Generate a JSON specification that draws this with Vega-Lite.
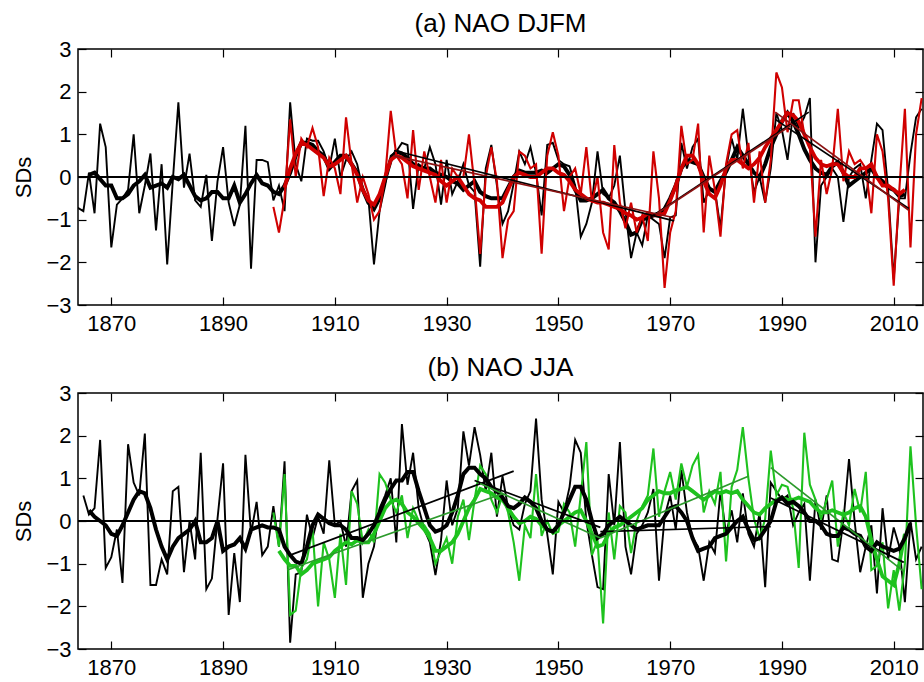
{
"$schema":"https://vega.github.io/schema/vega-lite/v6.json",
"padding":{"left":12,"top":10,"right":0,"bottom":0},
"spacing":19,
"config":{"view":{"stroke":"#000","strokeWidth":1.5},"font":"Liberation Sans",
"title":{"fontSize":26,"fontWeight":"normal","font":"Liberation Sans","offset":1,"anchor":"middle","color":"#000"},
"axis":{"labelFontSize":22,"labelFont":"Liberation Sans","labelColor":"#000","tickColor":"#000","tickWidth":1.2,"titleFontSize":22,"titleFontWeight":"normal","titleFont":"Liberation Sans","titleColor":"#000","grid":false,"domain":false}},
"datasets":{
"a_bk":[{"year":1864,"v":-0.72},{"year":1865,"v":-0.8},{"year":1866,"v":0.1},{"year":1867,"v":-0.85},{"year":1868,"v":1.25},{"year":1869,"v":0.7},{"year":1870,"v":-1.65},{"year":1871,"v":-0.65},{"year":1872,"v":-0.5},{"year":1873,"v":-0.3},{"year":1874,"v":1.0},{"year":1875,"v":-0.85},{"year":1876,"v":-0.2},{"year":1877,"v":0.55},{"year":1878,"v":-1.25},{"year":1879,"v":0.3},{"year":1880,"v":-2.05},{"year":1881,"v":-0.1},{"year":1882,"v":1.75},{"year":1883,"v":-0.25},{"year":1884,"v":0.55},{"year":1885,"v":-0.55},{"year":1886,"v":-0.7},{"year":1887,"v":0.05},{"year":1888,"v":-1.5},{"year":1889,"v":-0.1},{"year":1890,"v":0.7},{"year":1891,"v":-0.6},{"year":1892,"v":-1.15},{"year":1893,"v":-0.65},{"year":1894,"v":1.2},{"year":1895,"v":-2.15},{"year":1896,"v":0.4},{"year":1897,"v":0.4},{"year":1898,"v":0.35},{"year":1899,"v":-0.55},{"year":1900,"v":-0.2},{"year":1901,"v":-0.8},{"year":1902,"v":1.75},{"year":1903,"v":0.3},{"year":1904,"v":-0.1},{"year":1905,"v":0.9},{"year":1906,"v":0.85},{"year":1907,"v":0.85},{"year":1908,"v":0.6},{"year":1909,"v":0.2},{"year":1910,"v":0.9},{"year":1911,"v":0.0},{"year":1912,"v":0.4},{"year":1913,"v":0.6},{"year":1914,"v":0.3},{"year":1915,"v":-0.3},{"year":1916,"v":-0.5},{"year":1917,"v":-2.05},{"year":1918,"v":-0.8},{"year":1919,"v":-0.2},{"year":1920,"v":0.5},{"year":1921,"v":0.6},{"year":1922,"v":0.8},{"year":1923,"v":0.75},{"year":1924,"v":-0.75},{"year":1925,"v":0.3},{"year":1926,"v":0.2},{"year":1927,"v":0.7},{"year":1928,"v":0.3},{"year":1929,"v":-0.65},{"year":1930,"v":0.4},{"year":1931,"v":-0.4},{"year":1932,"v":-0.1},{"year":1933,"v":0.3},{"year":1934,"v":-0.2},{"year":1935,"v":-0.35},{"year":1936,"v":-2.1},{"year":1937,"v":0.2},{"year":1938,"v":0.75},{"year":1939,"v":-0.2},{"year":1940,"v":-1.1},{"year":1941,"v":-0.8},{"year":1942,"v":-0.15},{"year":1943,"v":0.6},{"year":1944,"v":0.3},{"year":1945,"v":0.7},{"year":1946,"v":0.1},{"year":1947,"v":-0.9},{"year":1948,"v":0.75},{"year":1949,"v":0.8},{"year":1950,"v":0.4},{"year":1951,"v":0.3},{"year":1952,"v":0.25},{"year":1953,"v":-0.2},{"year":1954,"v":-1.4},{"year":1955,"v":-1.1},{"year":1956,"v":-0.6},{"year":1957,"v":0.6},{"year":1958,"v":-0.4},{"year":1959,"v":-0.5},{"year":1960,"v":-0.2},{"year":1961,"v":0.5},{"year":1962,"v":-0.8},{"year":1963,"v":-1.9},{"year":1964,"v":-1.3},{"year":1965,"v":-1.6},{"year":1966,"v":-0.9},{"year":1967,"v":-1.0},{"year":1968,"v":-1.1},{"year":1969,"v":-1.9},{"year":1970,"v":-0.95},{"year":1971,"v":-0.9},{"year":1972,"v":0.8},{"year":1973,"v":0.2},{"year":1974,"v":0.7},{"year":1975,"v":0.9},{"year":1976,"v":-0.6},{"year":1977,"v":-0.3},{"year":1978,"v":-0.3},{"year":1979,"v":-1.2},{"year":1980,"v":0.2},{"year":1981,"v":0.9},{"year":1982,"v":0.4},{"year":1983,"v":1.6},{"year":1984,"v":0.5},{"year":1985,"v":-0.35},{"year":1986,"v":0.0},{"year":1987,"v":-0.6},{"year":1988,"v":0.2},{"year":1989,"v":1.5},{"year":1990,"v":1.1},{"year":1991,"v":0.4},{"year":1992,"v":1.5},{"year":1993,"v":1.15},{"year":1994,"v":1.4},{"year":1995,"v":1.85},{"year":1996,"v":-2.0},{"year":1997,"v":-0.2},{"year":1998,"v":0.0},{"year":1999,"v":0.2},{"year":2000,"v":0.0},{"year":2001,"v":-1.05},{"year":2002,"v":0.0},{"year":2003,"v":0.2},{"year":2004,"v":0.3},{"year":2005,"v":-0.5},{"year":2006,"v":0.4},{"year":2007,"v":1.25},{"year":2008,"v":1.1},{"year":2009,"v":-0.3},{"year":2010,"v":-2.4},{"year":2011,"v":-0.5},{"year":2012,"v":-0.5},{"year":2013,"v":0.55},{"year":2014,"v":1.4},{"year":2015,"v":1.6}],
"a_bks":[{"year":1866,"v":0.05},{"year":1867,"v":0.1},{"year":1868,"v":-0.05},{"year":1869,"v":-0.2},{"year":1870,"v":-0.2},{"year":1871,"v":-0.5},{"year":1872,"v":-0.5},{"year":1873,"v":-0.4},{"year":1874,"v":-0.2},{"year":1875,"v":-0.1},{"year":1876,"v":0.05},{"year":1877,"v":-0.25},{"year":1878,"v":-0.2},{"year":1879,"v":-0.15},{"year":1880,"v":-0.25},{"year":1881,"v":0.0},{"year":1882,"v":-0.05},{"year":1883,"v":0.05},{"year":1884,"v":-0.2},{"year":1885,"v":-0.45},{"year":1886,"v":-0.55},{"year":1887,"v":-0.5},{"year":1888,"v":-0.35},{"year":1889,"v":-0.35},{"year":1890,"v":-0.5},{"year":1891,"v":-0.5},{"year":1892,"v":-0.2},{"year":1893,"v":-0.6},{"year":1894,"v":-0.4},{"year":1895,"v":-0.15},{"year":1896,"v":0.05},{"year":1897,"v":-0.15},{"year":1898,"v":-0.2},{"year":1899,"v":-0.35},{"year":1900,"v":-0.4},{"year":1901,"v":-0.2},{"year":1902,"v":0.1},{"year":1903,"v":0.5},{"year":1904,"v":0.8},{"year":1905,"v":0.8},{"year":1906,"v":0.75},{"year":1907,"v":0.6},{"year":1908,"v":0.5},{"year":1909,"v":0.2},{"year":1910,"v":0.35},{"year":1911,"v":0.5},{"year":1912,"v":0.5},{"year":1913,"v":0.3},{"year":1914,"v":0.1},{"year":1915,"v":-0.3},{"year":1916,"v":-0.6},{"year":1917,"v":-0.75},{"year":1918,"v":-0.5},{"year":1919,"v":-0.05},{"year":1920,"v":0.4},{"year":1921,"v":0.6},{"year":1922,"v":0.55},{"year":1923,"v":0.45},{"year":1924,"v":0.3},{"year":1925,"v":0.25},{"year":1926,"v":0.2},{"year":1927,"v":0.2},{"year":1928,"v":0.1},{"year":1929,"v":0.05},{"year":1930,"v":0.0},{"year":1931,"v":-0.1},{"year":1932,"v":-0.15},{"year":1933,"v":-0.3},{"year":1934,"v":-0.2},{"year":1935,"v":-0.1},{"year":1936,"v":-0.35},{"year":1937,"v":-0.45},{"year":1938,"v":-0.5},{"year":1939,"v":-0.5},{"year":1940,"v":-0.5},{"year":1941,"v":-0.25},{"year":1942,"v":0.0},{"year":1943,"v":0.15},{"year":1944,"v":0.1},{"year":1945,"v":0.1},{"year":1946,"v":0.1},{"year":1947,"v":0.15},{"year":1948,"v":0.1},{"year":1949,"v":0.2},{"year":1950,"v":0.3},{"year":1951,"v":0.25},{"year":1952,"v":0.05},{"year":1953,"v":-0.3},{"year":1954,"v":-0.55},{"year":1955,"v":-0.55},{"year":1956,"v":-0.5},{"year":1957,"v":-0.4},{"year":1958,"v":-0.3},{"year":1959,"v":-0.5},{"year":1960,"v":-0.6},{"year":1961,"v":-0.8},{"year":1962,"v":-1.05},{"year":1963,"v":-1.35},{"year":1964,"v":-1.3},{"year":1965,"v":-1.0},{"year":1966,"v":-0.95},{"year":1967,"v":-0.9},{"year":1968,"v":-0.85},{"year":1969,"v":-0.75},{"year":1970,"v":-0.5},{"year":1971,"v":-0.2},{"year":1972,"v":0.2},{"year":1973,"v":0.4},{"year":1974,"v":0.35},{"year":1975,"v":0.3},{"year":1976,"v":0.0},{"year":1977,"v":-0.27},{"year":1978,"v":-0.35},{"year":1979,"v":-0.1},{"year":1980,"v":0.12},{"year":1981,"v":0.4},{"year":1982,"v":0.7},{"year":1983,"v":0.5},{"year":1984,"v":0.3},{"year":1985,"v":0.1},{"year":1986,"v":0.0},{"year":1987,"v":0.3},{"year":1988,"v":0.7},{"year":1989,"v":1.0},{"year":1990,"v":1.3},{"year":1991,"v":1.5},{"year":1992,"v":1.3},{"year":1993,"v":1.0},{"year":1994,"v":0.65},{"year":1995,"v":0.4},{"year":1996,"v":0.2},{"year":1997,"v":0.1},{"year":1998,"v":0.05},{"year":1999,"v":0.25},{"year":2000,"v":0.35},{"year":2001,"v":0.1},{"year":2002,"v":-0.2},{"year":2003,"v":-0.1},{"year":2004,"v":0.0},{"year":2005,"v":0.1},{"year":2006,"v":0.2},{"year":2007,"v":0.0},{"year":2008,"v":-0.1},{"year":2009,"v":-0.25},{"year":2010,"v":-0.3},{"year":2011,"v":-0.45},{"year":2012,"v":-0.4}],
"a_rd":[{"year":1899,"v":-0.7},{"year":1900,"v":-1.3},{"year":1901,"v":-0.5},{"year":1902,"v":1.35},{"year":1903,"v":0.0},{"year":1904,"v":0.9},{"year":1905,"v":0.7},{"year":1906,"v":1.15},{"year":1907,"v":0.7},{"year":1908,"v":-0.45},{"year":1909,"v":0.45},{"year":1910,"v":0.2},{"year":1911,"v":-0.4},{"year":1912,"v":1.4},{"year":1913,"v":0.3},{"year":1914,"v":-0.6},{"year":1915,"v":0.0},{"year":1916,"v":-0.4},{"year":1917,"v":-1.0},{"year":1918,"v":-0.8},{"year":1919,"v":0.0},{"year":1920,"v":1.55},{"year":1921,"v":0.5},{"year":1922,"v":0.3},{"year":1923,"v":-0.5},{"year":1924,"v":1.1},{"year":1925,"v":-0.3},{"year":1926,"v":0.6},{"year":1927,"v":0.0},{"year":1928,"v":-0.6},{"year":1929,"v":0.4},{"year":1930,"v":-0.6},{"year":1931,"v":0.2},{"year":1932,"v":0.0},{"year":1933,"v":0.0},{"year":1934,"v":1.0},{"year":1935,"v":-0.2},{"year":1936,"v":-1.8},{"year":1937,"v":0.0},{"year":1938,"v":0.7},{"year":1939,"v":-0.1},{"year":1940,"v":-1.9},{"year":1941,"v":-1.0},{"year":1942,"v":-0.8},{"year":1943,"v":0.6},{"year":1944,"v":0.5},{"year":1945,"v":0.2},{"year":1946,"v":0.3},{"year":1947,"v":-1.8},{"year":1948,"v":0.5},{"year":1949,"v":1.05},{"year":1950,"v":0.5},{"year":1951,"v":-0.8},{"year":1952,"v":0.0},{"year":1953,"v":0.2},{"year":1954,"v":-0.4},{"year":1955,"v":0.7},{"year":1956,"v":-0.6},{"year":1957,"v":0.0},{"year":1958,"v":-1.3},{"year":1959,"v":-1.7},{"year":1960,"v":0.75},{"year":1961,"v":-0.6},{"year":1962,"v":-1.2},{"year":1963,"v":-0.6},{"year":1964,"v":-1.3},{"year":1965,"v":-0.9},{"year":1966,"v":-1.5},{"year":1967,"v":0.6},{"year":1968,"v":-0.5},{"year":1969,"v":-2.6},{"year":1970,"v":-1.3},{"year":1971,"v":-0.8},{"year":1972,"v":1.2},{"year":1973,"v":0.3},{"year":1974,"v":0.4},{"year":1975,"v":1.25},{"year":1976,"v":-1.3},{"year":1977,"v":0.5},{"year":1978,"v":-0.3},{"year":1979,"v":-1.4},{"year":1980,"v":0.3},{"year":1981,"v":1.0},{"year":1982,"v":1.1},{"year":1983,"v":0.2},{"year":1984,"v":0.8},{"year":1985,"v":-0.6},{"year":1986,"v":0.6},{"year":1987,"v":-0.6},{"year":1988,"v":0.4},{"year":1989,"v":2.45},{"year":1990,"v":2.1},{"year":1991,"v":1.05},{"year":1992,"v":1.8},{"year":1993,"v":1.8},{"year":1994,"v":1.0},{"year":1995,"v":0.7},{"year":1996,"v":-1.4},{"year":1997,"v":0.4},{"year":1998,"v":-0.4},{"year":1999,"v":0.2},{"year":2000,"v":1.6},{"year":2001,"v":-0.1},{"year":2002,"v":0.6},{"year":2003,"v":0.3},{"year":2004,"v":0.4},{"year":2005,"v":0.2},{"year":2006,"v":-0.85},{"year":2007,"v":1.0},{"year":2008,"v":0.6},{"year":2009,"v":-0.5},{"year":2010,"v":-2.55},{"year":2011,"v":-0.3},{"year":2012,"v":1.6},{"year":2013,"v":-1.65},{"year":2014,"v":1.0},{"year":2015,"v":1.85}],
"a_rds":[{"year":1901,"v":-0.25},{"year":1902,"v":0.2},{"year":1903,"v":0.55},{"year":1904,"v":0.8},{"year":1905,"v":0.75},{"year":1906,"v":0.65},{"year":1907,"v":0.55},{"year":1908,"v":0.45},{"year":1909,"v":0.25},{"year":1910,"v":0.3},{"year":1911,"v":0.4},{"year":1912,"v":0.5},{"year":1913,"v":0.3},{"year":1914,"v":0.05},{"year":1915,"v":-0.3},{"year":1916,"v":-0.55},{"year":1917,"v":-0.65},{"year":1918,"v":-0.4},{"year":1919,"v":0.0},{"year":1920,"v":0.4},{"year":1921,"v":0.5},{"year":1922,"v":0.45},{"year":1923,"v":0.35},{"year":1924,"v":0.25},{"year":1925,"v":0.2},{"year":1926,"v":0.15},{"year":1927,"v":0.1},{"year":1928,"v":0.05},{"year":1929,"v":-0.1},{"year":1930,"v":-0.2},{"year":1931,"v":-0.1},{"year":1932,"v":0.0},{"year":1933,"v":-0.2},{"year":1934,"v":-0.4},{"year":1935,"v":-0.5},{"year":1936,"v":-0.55},{"year":1937,"v":-0.7},{"year":1938,"v":-0.7},{"year":1939,"v":-0.7},{"year":1940,"v":-0.6},{"year":1941,"v":-0.3},{"year":1942,"v":0.0},{"year":1943,"v":0.1},{"year":1944,"v":0.05},{"year":1945,"v":0.0},{"year":1946,"v":0.0},{"year":1947,"v":0.1},{"year":1948,"v":0.2},{"year":1949,"v":0.2},{"year":1950,"v":0.1},{"year":1951,"v":0.05},{"year":1952,"v":-0.1},{"year":1953,"v":-0.3},{"year":1954,"v":-0.4},{"year":1955,"v":-0.5},{"year":1956,"v":-0.55},{"year":1957,"v":-0.6},{"year":1958,"v":-0.6},{"year":1959,"v":-0.65},{"year":1960,"v":-0.7},{"year":1961,"v":-0.75},{"year":1962,"v":-0.85},{"year":1963,"v":-0.9},{"year":1964,"v":-1.0},{"year":1965,"v":-0.95},{"year":1966,"v":-0.85},{"year":1967,"v":-0.9},{"year":1968,"v":-0.9},{"year":1969,"v":-0.85},{"year":1970,"v":-0.55},{"year":1971,"v":-0.2},{"year":1972,"v":0.2},{"year":1973,"v":0.5},{"year":1974,"v":0.5},{"year":1975,"v":0.3},{"year":1976,"v":-0.1},{"year":1977,"v":-0.4},{"year":1978,"v":-0.5},{"year":1979,"v":-0.2},{"year":1980,"v":0.2},{"year":1981,"v":0.4},{"year":1982,"v":0.4},{"year":1983,"v":0.3},{"year":1984,"v":0.2},{"year":1985,"v":0.3},{"year":1986,"v":0.45},{"year":1987,"v":0.7},{"year":1988,"v":0.9},{"year":1989,"v":1.1},{"year":1990,"v":1.3},{"year":1991,"v":1.5},{"year":1992,"v":1.45},{"year":1993,"v":1.3},{"year":1994,"v":1.0},{"year":1995,"v":0.7},{"year":1996,"v":0.45},{"year":1997,"v":0.3},{"year":1998,"v":0.25},{"year":1999,"v":0.3},{"year":2000,"v":0.3},{"year":2001,"v":0.1},{"year":2002,"v":0.0},{"year":2003,"v":0.0},{"year":2004,"v":0.2},{"year":2005,"v":0.2},{"year":2006,"v":0.3},{"year":2007,"v":0.0},{"year":2008,"v":-0.2},{"year":2009,"v":-0.2},{"year":2010,"v":-0.3},{"year":2011,"v":-0.4},{"year":2012,"v":-0.3}],
"a_trk":[{"s":"1","year":1920.6,"v":0.62},{"s":"1","year":1970.7,"v":-1.03},{"s":"2","year":1966.5,"v":-0.94},{"s":"2","year":1994.8,"v":1.52},{"s":"3","year":1988.8,"v":1.35},{"s":"3","year":2012.7,"v":-0.74}],
"a_trr":[{"s":"1","year":1920.5,"v":0.5},{"s":"1","year":1970.5,"v":-0.95},{"s":"2","year":1967.7,"v":-0.85},{"s":"2","year":1991.5,"v":1.2},{"s":"3","year":1988.8,"v":1.52},{"s":"3","year":2012.7,"v":-0.78}],
"zero":[{"year":1860,"v":0},{"year":2020,"v":0}],
"b_bk":[{"year":1865,"v":0.6},{"year":1866,"v":0.15},{"year":1867,"v":0.3},{"year":1868,"v":1.9},{"year":1869,"v":-1.1},{"year":1870,"v":-0.85},{"year":1871,"v":-0.2},{"year":1872,"v":-1.45},{"year":1873,"v":1.8},{"year":1874,"v":0.9},{"year":1875,"v":0.6},{"year":1876,"v":2.05},{"year":1877,"v":-1.5},{"year":1878,"v":-1.5},{"year":1879,"v":-0.9},{"year":1880,"v":-1.25},{"year":1881,"v":0.7},{"year":1882,"v":0.8},{"year":1883,"v":-1.2},{"year":1884,"v":0.0},{"year":1885,"v":-0.9},{"year":1886,"v":1.6},{"year":1887,"v":-1.6},{"year":1888,"v":-1.35},{"year":1889,"v":0.05},{"year":1890,"v":1.35},{"year":1891,"v":-2.2},{"year":1892,"v":-0.75},{"year":1893,"v":-1.9},{"year":1894,"v":1.55},{"year":1895,"v":-0.3},{"year":1896,"v":0.45},{"year":1897,"v":-0.8},{"year":1898,"v":-0.6},{"year":1899,"v":0.35},{"year":1900,"v":-0.6},{"year":1901,"v":1.4},{"year":1902,"v":-2.85},{"year":1903,"v":-1.25},{"year":1904,"v":-1.2},{"year":1905,"v":0.15},{"year":1906,"v":-0.4},{"year":1907,"v":0.1},{"year":1908,"v":-0.3},{"year":1909,"v":1.42},{"year":1910,"v":-0.1},{"year":1911,"v":0.0},{"year":1912,"v":-0.6},{"year":1913,"v":0.7},{"year":1914,"v":0.95},{"year":1915,"v":-1.8},{"year":1916,"v":-1.0},{"year":1917,"v":-0.6},{"year":1918,"v":0.3},{"year":1919,"v":0.6},{"year":1920,"v":1.0},{"year":1921,"v":-0.5},{"year":1922,"v":2.27},{"year":1923,"v":0.85},{"year":1924,"v":1.6},{"year":1925,"v":0.3},{"year":1926,"v":-0.2},{"year":1927,"v":-0.5},{"year":1928,"v":-1.27},{"year":1929,"v":-0.45},{"year":1930,"v":0.95},{"year":1931,"v":-0.1},{"year":1932,"v":0.3},{"year":1933,"v":2.1},{"year":1934,"v":1.3},{"year":1935,"v":2.2},{"year":1936,"v":1.55},{"year":1937,"v":0.7},{"year":1938,"v":1.6},{"year":1939,"v":0.1},{"year":1940,"v":1.05},{"year":1941,"v":0.3},{"year":1942,"v":-0.1},{"year":1943,"v":-0.2},{"year":1944,"v":0.4},{"year":1945,"v":0.7},{"year":1946,"v":2.4},{"year":1947,"v":0.5},{"year":1948,"v":-0.3},{"year":1949,"v":-1.25},{"year":1950,"v":0.45},{"year":1951,"v":0.2},{"year":1952,"v":0.8},{"year":1953,"v":1.9},{"year":1954,"v":1.6},{"year":1955,"v":0.0},{"year":1956,"v":-0.8},{"year":1957,"v":-1.55},{"year":1958,"v":-1.6},{"year":1959,"v":1.1},{"year":1960,"v":-0.1},{"year":1961,"v":1.85},{"year":1962,"v":-0.6},{"year":1963,"v":-1.25},{"year":1964,"v":-0.3},{"year":1965,"v":-0.1},{"year":1966,"v":0.2},{"year":1967,"v":0.75},{"year":1968,"v":-1.4},{"year":1969,"v":0.1},{"year":1970,"v":0.6},{"year":1971,"v":-0.2},{"year":1972,"v":1.2},{"year":1973,"v":0.2},{"year":1974,"v":-0.4},{"year":1975,"v":-0.6},{"year":1976,"v":-1.4},{"year":1977,"v":-0.5},{"year":1978,"v":-0.75},{"year":1979,"v":0.7},{"year":1980,"v":-0.3},{"year":1981,"v":0.25},{"year":1982,"v":-0.5},{"year":1983,"v":0.65},{"year":1984,"v":-0.3},{"year":1985,"v":-0.6},{"year":1986,"v":0.2},{"year":1987,"v":-1.55},{"year":1988,"v":0.9},{"year":1989,"v":0.7},{"year":1990,"v":0.5},{"year":1991,"v":0.6},{"year":1992,"v":-0.1},{"year":1993,"v":0.2},{"year":1994,"v":0.4},{"year":1995,"v":-1.4},{"year":1996,"v":0.5},{"year":1997,"v":-0.2},{"year":1998,"v":0.6},{"year":1999,"v":-0.9},{"year":2000,"v":-0.95},{"year":2001,"v":0.0},{"year":2002,"v":1.45},{"year":2003,"v":0.0},{"year":2004,"v":-1.2},{"year":2005,"v":-0.6},{"year":2006,"v":-0.1},{"year":2007,"v":-1.7},{"year":2008,"v":0.3},{"year":2009,"v":-0.9},{"year":2010,"v":-0.15},{"year":2011,"v":-0.6},{"year":2012,"v":-1.9},{"year":2013,"v":0.0},{"year":2014,"v":-0.9},{"year":2015,"v":-0.6}],
"b_bks":[{"year":1866,"v":0.25},{"year":1867,"v":0.1},{"year":1868,"v":0.0},{"year":1869,"v":-0.1},{"year":1870,"v":-0.3},{"year":1871,"v":-0.35},{"year":1872,"v":-0.1},{"year":1873,"v":0.2},{"year":1874,"v":0.5},{"year":1875,"v":0.7},{"year":1876,"v":0.65},{"year":1877,"v":0.3},{"year":1878,"v":-0.2},{"year":1879,"v":-0.6},{"year":1880,"v":-0.9},{"year":1881,"v":-0.6},{"year":1882,"v":-0.4},{"year":1883,"v":-0.3},{"year":1884,"v":-0.2},{"year":1885,"v":0.0},{"year":1886,"v":-0.5},{"year":1887,"v":-0.5},{"year":1888,"v":-0.4},{"year":1889,"v":0.0},{"year":1890,"v":-0.7},{"year":1891,"v":-0.6},{"year":1892,"v":-0.55},{"year":1893,"v":-0.4},{"year":1894,"v":-0.65},{"year":1895,"v":-0.2},{"year":1896,"v":-0.15},{"year":1897,"v":-0.1},{"year":1898,"v":-0.15},{"year":1899,"v":-0.15},{"year":1900,"v":-0.2},{"year":1901,"v":-0.6},{"year":1902,"v":-0.8},{"year":1903,"v":-0.95},{"year":1904,"v":-1.0},{"year":1905,"v":-0.6},{"year":1906,"v":-0.1},{"year":1907,"v":0.15},{"year":1908,"v":0.05},{"year":1909,"v":-0.05},{"year":1910,"v":-0.1},{"year":1911,"v":-0.1},{"year":1912,"v":-0.2},{"year":1913,"v":-0.4},{"year":1914,"v":-0.4},{"year":1915,"v":-0.45},{"year":1916,"v":-0.3},{"year":1917,"v":-0.1},{"year":1918,"v":0.2},{"year":1919,"v":0.5},{"year":1920,"v":0.75},{"year":1921,"v":0.95},{"year":1922,"v":0.95},{"year":1923,"v":1.15},{"year":1924,"v":1.15},{"year":1925,"v":0.7},{"year":1926,"v":0.3},{"year":1927,"v":-0.1},{"year":1928,"v":-0.25},{"year":1929,"v":-0.2},{"year":1930,"v":-0.1},{"year":1931,"v":0.2},{"year":1932,"v":0.6},{"year":1933,"v":1.1},{"year":1934,"v":1.25},{"year":1935,"v":1.25},{"year":1936,"v":1.1},{"year":1937,"v":1.0},{"year":1938,"v":0.8},{"year":1939,"v":0.7},{"year":1940,"v":0.55},{"year":1941,"v":0.35},{"year":1942,"v":0.3},{"year":1943,"v":0.4},{"year":1944,"v":0.55},{"year":1945,"v":0.45},{"year":1946,"v":0.3},{"year":1947,"v":0.0},{"year":1948,"v":-0.2},{"year":1949,"v":-0.25},{"year":1950,"v":-0.1},{"year":1951,"v":0.2},{"year":1952,"v":0.5},{"year":1953,"v":0.8},{"year":1954,"v":0.8},{"year":1955,"v":0.5},{"year":1956,"v":0.0},{"year":1957,"v":-0.4},{"year":1958,"v":-0.3},{"year":1959,"v":-0.1},{"year":1960,"v":0.0},{"year":1961,"v":0.1},{"year":1962,"v":0.0},{"year":1963,"v":-0.1},{"year":1964,"v":-0.2},{"year":1965,"v":-0.15},{"year":1966,"v":-0.1},{"year":1967,"v":-0.1},{"year":1968,"v":-0.1},{"year":1969,"v":0.1},{"year":1970,"v":0.3},{"year":1971,"v":0.35},{"year":1972,"v":0.2},{"year":1973,"v":0.0},{"year":1974,"v":-0.4},{"year":1975,"v":-0.7},{"year":1976,"v":-0.65},{"year":1977,"v":-0.6},{"year":1978,"v":-0.4},{"year":1979,"v":-0.35},{"year":1980,"v":-0.3},{"year":1981,"v":-0.15},{"year":1982,"v":0.0},{"year":1983,"v":0.1},{"year":1984,"v":-0.2},{"year":1985,"v":-0.45},{"year":1986,"v":-0.4},{"year":1987,"v":-0.2},{"year":1988,"v":0.0},{"year":1989,"v":0.45},{"year":1990,"v":0.55},{"year":1991,"v":0.4},{"year":1992,"v":0.45},{"year":1993,"v":0.35},{"year":1994,"v":0.2},{"year":1995,"v":0.0},{"year":1996,"v":0.0},{"year":1997,"v":-0.1},{"year":1998,"v":-0.3},{"year":1999,"v":-0.35},{"year":2000,"v":-0.35},{"year":2001,"v":-0.15},{"year":2002,"v":-0.2},{"year":2003,"v":-0.3},{"year":2004,"v":-0.35},{"year":2005,"v":-0.6},{"year":2006,"v":-0.7},{"year":2007,"v":-0.5},{"year":2008,"v":-0.6},{"year":2009,"v":-0.65},{"year":2010,"v":-0.7},{"year":2011,"v":-0.65},{"year":2012,"v":-0.4},{"year":2013,"v":-0.05}],
"b_gr":[{"year":1899,"v":0.2},{"year":1900,"v":-0.6},{"year":1901,"v":1.1},{"year":1902,"v":-2.2},{"year":1903,"v":-2.1},{"year":1904,"v":-1.1},{"year":1905,"v":-0.9},{"year":1906,"v":-0.2},{"year":1907,"v":-2.0},{"year":1908,"v":-0.5},{"year":1909,"v":-0.9},{"year":1910,"v":-1.8},{"year":1911,"v":-0.3},{"year":1912,"v":-1.5},{"year":1913,"v":0.7},{"year":1914,"v":0.4},{"year":1915,"v":-0.5},{"year":1916,"v":-0.2},{"year":1917,"v":-0.5},{"year":1918,"v":1.1},{"year":1919,"v":0.9},{"year":1920,"v":0.5},{"year":1921,"v":0.2},{"year":1922,"v":0.6},{"year":1923,"v":-0.4},{"year":1924,"v":0.3},{"year":1925,"v":0.0},{"year":1926,"v":-0.1},{"year":1927,"v":-0.3},{"year":1928,"v":-1.0},{"year":1929,"v":-0.7},{"year":1930,"v":-0.4},{"year":1931,"v":-1.0},{"year":1932,"v":0.1},{"year":1933,"v":0.5},{"year":1934,"v":-0.45},{"year":1935,"v":0.5},{"year":1936,"v":1.3},{"year":1937,"v":1.1},{"year":1938,"v":0.5},{"year":1939,"v":0.2},{"year":1940,"v":0.6},{"year":1941,"v":0.2},{"year":1942,"v":-0.5},{"year":1943,"v":-1.4},{"year":1944,"v":-0.1},{"year":1945,"v":-0.4},{"year":1946,"v":1.1},{"year":1947,"v":-0.35},{"year":1948,"v":0.0},{"year":1949,"v":-0.3},{"year":1950,"v":-0.25},{"year":1951,"v":0.4},{"year":1952,"v":0.2},{"year":1953,"v":-0.6},{"year":1954,"v":0.6},{"year":1955,"v":1.85},{"year":1956,"v":-0.8},{"year":1957,"v":-0.45},{"year":1958,"v":-2.4},{"year":1959,"v":0.2},{"year":1960,"v":-0.9},{"year":1961,"v":0.35},{"year":1962,"v":0.2},{"year":1963,"v":-0.75},{"year":1964,"v":0.0},{"year":1965,"v":0.35},{"year":1966,"v":0.6},{"year":1967,"v":1.7},{"year":1968,"v":0.1},{"year":1969,"v":0.7},{"year":1970,"v":1.15},{"year":1971,"v":0.5},{"year":1972,"v":1.35},{"year":1973,"v":0.8},{"year":1974,"v":1.3},{"year":1975,"v":1.55},{"year":1976,"v":0.2},{"year":1977,"v":0.7},{"year":1978,"v":0.4},{"year":1979,"v":1.15},{"year":1980,"v":-0.95},{"year":1981,"v":0.8},{"year":1982,"v":1.2},{"year":1983,"v":2.2},{"year":1984,"v":1.0},{"year":1985,"v":0.05},{"year":1986,"v":-0.4},{"year":1987,"v":0.05},{"year":1988,"v":1.65},{"year":1989,"v":0.6},{"year":1990,"v":0.85},{"year":1991,"v":0.8},{"year":1992,"v":0.3},{"year":1993,"v":-1.1},{"year":1994,"v":2.07},{"year":1995,"v":0.85},{"year":1996,"v":0.5},{"year":1997,"v":0.05},{"year":1998,"v":0.5},{"year":1999,"v":0.95},{"year":2000,"v":-0.6},{"year":2001,"v":0.2},{"year":2002,"v":-0.1},{"year":2003,"v":0.75},{"year":2004,"v":0.2},{"year":2005,"v":1.15},{"year":2006,"v":-1.15},{"year":2007,"v":-1.05},{"year":2008,"v":-0.5},{"year":2009,"v":-2.05},{"year":2010,"v":-1.15},{"year":2011,"v":-2.1},{"year":2012,"v":-1.0},{"year":2013,"v":1.75},{"year":2014,"v":-0.1},{"year":2015,"v":-1.6}],
"b_grs":[{"year":1900,"v":-0.7},{"year":1901,"v":-0.9},{"year":1902,"v":-1.05},{"year":1903,"v":-1.05},{"year":1904,"v":-1.25},{"year":1905,"v":-1.15},{"year":1906,"v":-1.0},{"year":1907,"v":-0.95},{"year":1908,"v":-0.9},{"year":1909,"v":-0.85},{"year":1910,"v":-0.7},{"year":1911,"v":-0.6},{"year":1912,"v":-0.5},{"year":1913,"v":-0.55},{"year":1914,"v":-0.45},{"year":1915,"v":-0.5},{"year":1916,"v":-0.5},{"year":1917,"v":-0.3},{"year":1918,"v":0.0},{"year":1919,"v":0.3},{"year":1920,"v":0.45},{"year":1921,"v":0.5},{"year":1922,"v":0.4},{"year":1923,"v":0.2},{"year":1924,"v":0.1},{"year":1925,"v":-0.05},{"year":1926,"v":-0.2},{"year":1927,"v":-0.4},{"year":1928,"v":-0.7},{"year":1929,"v":-0.7},{"year":1930,"v":-0.6},{"year":1931,"v":-0.5},{"year":1932,"v":-0.3},{"year":1933,"v":0.0},{"year":1934,"v":0.3},{"year":1935,"v":0.5},{"year":1936,"v":0.75},{"year":1937,"v":0.7},{"year":1938,"v":0.65},{"year":1939,"v":0.55},{"year":1940,"v":0.5},{"year":1941,"v":0.3},{"year":1942,"v":0.1},{"year":1943,"v":-0.05},{"year":1944,"v":0.0},{"year":1945,"v":0.1},{"year":1946,"v":0.05},{"year":1947,"v":-0.1},{"year":1948,"v":-0.2},{"year":1949,"v":-0.25},{"year":1950,"v":-0.1},{"year":1951,"v":0.0},{"year":1952,"v":0.1},{"year":1953,"v":0.2},{"year":1954,"v":0.25},{"year":1955,"v":0.0},{"year":1956,"v":-0.3},{"year":1957,"v":-0.6},{"year":1958,"v":-0.55},{"year":1959,"v":-0.3},{"year":1960,"v":-0.15},{"year":1961,"v":-0.1},{"year":1962,"v":0.0},{"year":1963,"v":0.1},{"year":1964,"v":0.2},{"year":1965,"v":0.3},{"year":1966,"v":0.5},{"year":1967,"v":0.6},{"year":1968,"v":0.7},{"year":1969,"v":0.65},{"year":1970,"v":0.65},{"year":1971,"v":0.72},{"year":1972,"v":0.75},{"year":1973,"v":0.8},{"year":1974,"v":0.7},{"year":1975,"v":0.6},{"year":1976,"v":0.5},{"year":1977,"v":0.6},{"year":1978,"v":0.7},{"year":1979,"v":0.65},{"year":1980,"v":0.7},{"year":1981,"v":0.65},{"year":1982,"v":0.7},{"year":1983,"v":0.5},{"year":1984,"v":0.35},{"year":1985,"v":0.2},{"year":1986,"v":0.15},{"year":1987,"v":0.3},{"year":1988,"v":0.4},{"year":1989,"v":0.5},{"year":1990,"v":0.55},{"year":1991,"v":0.5},{"year":1992,"v":0.5},{"year":1993,"v":0.55},{"year":1994,"v":0.5},{"year":1995,"v":0.45},{"year":1996,"v":0.3},{"year":1997,"v":0.2},{"year":1998,"v":0.2},{"year":1999,"v":0.25},{"year":2000,"v":0.2},{"year":2001,"v":0.15},{"year":2002,"v":0.2},{"year":2003,"v":0.3},{"year":2004,"v":0.35},{"year":2005,"v":0.1},{"year":2006,"v":-0.45},{"year":2007,"v":-0.9},{"year":2008,"v":-1.3},{"year":2009,"v":-1.4},{"year":2010,"v":-1.5},{"year":2011,"v":-1.0},{"year":2012,"v":-0.3}],
"b_trk":[{"s":"1","year":1902,"v":-0.8},{"s":"1","year":1942,"v":1.17},{"s":"2","year":1935,"v":0.95},{"s":"2","year":1957.5,"v":-0.15},{"s":"3","year":1957.5,"v":-0.25},{"s":"3","year":1988,"v":-0.13},{"s":"4","year":1988,"v":0.54},{"s":"4","year":2011.8,"v":-0.97}],
"b_trg":[{"s":"1","year":1901.5,"v":-1.15},{"s":"1","year":1940,"v":0.64},{"s":"2","year":1936,"v":0.88},{"s":"2","year":1957.5,"v":-0.4},{"s":"3","year":1957.5,"v":-0.4},{"s":"3","year":1984,"v":1.05},{"s":"4","year":1988,"v":1.25},{"s":"4","year":2011.8,"v":-1.18}]
},
"vconcat":[
{"width":845,"height":256,"title":"(a) NAO DJFM",
"resolve":{"axis":{"x":"independent","y":"independent"}},
"encoding":{
"x":{"field":"year","type":"quantitative","scale":{"domain":[1864.04,2015.24],"nice":false,"zero":false},"axis":null},
"y":{"field":"v","type":"quantitative","scale":{"domain":[-3,3],"nice":false},"axis":null}},
"layer":[
{"data":{"name":"a_bk"},"mark":{"type":"line","color":"#000","strokeWidth":1.9,"clip":true},
"encoding":{
"x":{"field":"year","type":"quantitative","axis":{"orient":"bottom","values":[1870,1890,1910,1930,1950,1970,1990,2010],"format":"d","tickSize":-8,"labelPadding":16,"title":null}},
"y":{"field":"v","type":"quantitative","axis":{"orient":"left","values":[-3,-2,-1,0,1,2,3],"format":"d","tickSize":-8,"labelPadding":15,"title":"SDs","titlePadding":10}}}},
{"data":{"name":"a_bks"},"mark":{"type":"line","color":"#000","strokeWidth":4,"clip":true}},
{"data":{"name":"a_rd"},"mark":{"type":"line","color":"#d00000","strokeWidth":2.1,"clip":true}},
{"data":{"name":"a_rds"},"mark":{"type":"line","color":"#d00000","strokeWidth":3.8,"clip":true}},
{"data":{"name":"a_trk"},"mark":{"type":"line","color":"#000","strokeWidth":1.7,"clip":true},"encoding":{"detail":{"field":"s"}}},
{"data":{"name":"a_trr"},"mark":{"type":"line","color":"#8b1212","strokeWidth":1.7,"clip":true},"encoding":{"detail":{"field":"s"}}},
{"data":{"name":"zero"},"mark":{"type":"line","color":"#000","strokeWidth":2.2,"clip":true},
"encoding":{
"x":{"field":"year","type":"quantitative","axis":{"orient":"top","values":[1870,1890,1910,1930,1950,1970,1990,2010],"labels":false,"tickSize":-8,"title":null}},
"y":{"field":"v","type":"quantitative","axis":{"orient":"right","values":[-3,-2,-1,0,1,2,3],"labels":false,"tickSize":-8,"title":null}}}}
]},
{"width":845,"height":256,"title":"(b) NAO JJA",
"resolve":{"axis":{"x":"independent","y":"independent"}},
"encoding":{
"x":{"field":"year","type":"quantitative","scale":{"domain":[1864.04,2015.24],"nice":false,"zero":false},"axis":null},
"y":{"field":"v","type":"quantitative","scale":{"domain":[-3,3],"nice":false},"axis":null}},
"layer":[
{"data":{"name":"b_bk"},"mark":{"type":"line","color":"#000","strokeWidth":1.9,"clip":true},
"encoding":{
"x":{"field":"year","type":"quantitative","axis":{"orient":"bottom","values":[1870,1890,1910,1930,1950,1970,1990,2010],"format":"d","tickSize":-8,"labelPadding":16,"title":null}},
"y":{"field":"v","type":"quantitative","axis":{"orient":"left","values":[-3,-2,-1,0,1,2,3],"format":"d","tickSize":-8,"labelPadding":15,"title":"SDs","titlePadding":10}}}},
{"data":{"name":"b_gr"},"mark":{"type":"line","color":"#1ec21e","strokeWidth":2.1,"clip":true}},
{"data":{"name":"b_grs"},"mark":{"type":"line","color":"#1ec21e","strokeWidth":3.8,"clip":true}},
{"data":{"name":"b_bks"},"mark":{"type":"line","color":"#000","strokeWidth":4,"clip":true}},
{"data":{"name":"b_trk"},"mark":{"type":"line","color":"#000","strokeWidth":1.7,"clip":true},"encoding":{"detail":{"field":"s"}}},
{"data":{"name":"b_trg"},"mark":{"type":"line","color":"#2c9a2c","strokeWidth":1.7,"clip":true},"encoding":{"detail":{"field":"s"}}},
{"data":{"name":"zero"},"mark":{"type":"line","color":"#000","strokeWidth":2.2,"clip":true},
"encoding":{
"x":{"field":"year","type":"quantitative","axis":{"orient":"top","values":[1870,1890,1910,1930,1950,1970,1990,2010],"labels":false,"tickSize":-8,"title":null}},
"y":{"field":"v","type":"quantitative","axis":{"orient":"right","values":[-3,-2,-1,0,1,2,3],"labels":false,"tickSize":-8,"title":null}}}}
]}
]
}
